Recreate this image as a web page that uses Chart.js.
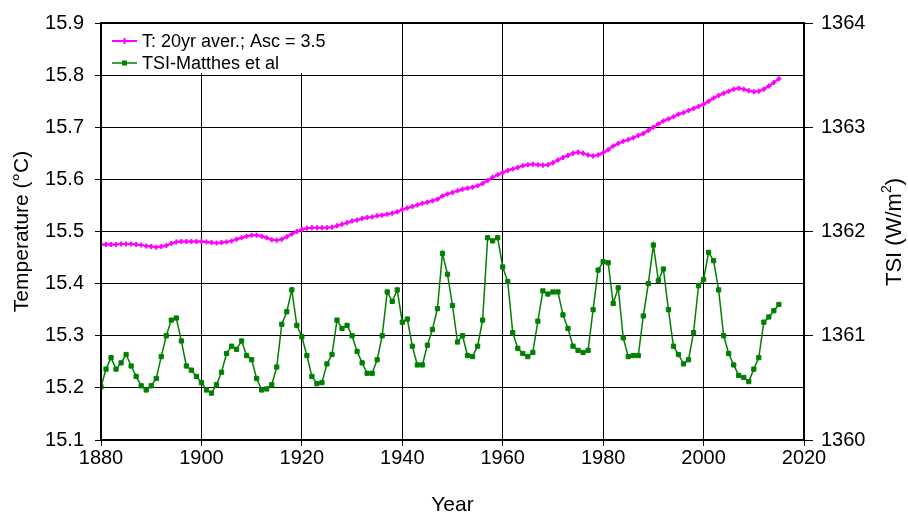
<!DOCTYPE html>
<html><head><meta charset="utf-8">
<script src="https://cdn.jsdelivr.net/npm/chart.js@4/dist/chart.umd.min.js"></script>
<style>html,body{margin:0;padding:0;background:#fff;} #wrap{width:908px;height:516px;position:relative;}</style>
</head><body><div id="wrap"><canvas id="c" width="908" height="516"></canvas></div>
<script>
const FONT = '"Liberation Sans", Arial, Helvetica, sans-serif';

const years = [1880,1881,1882,1883,1884,1885,1886,1887,1888,1889,1890,1891,1892,1893,1894,1895,1896,1897,1898,1899,
1900,1901,1902,1903,1904,1905,1906,1907,1908,1909,1910,1911,1912,1913,1914,1915,1916,1917,1918,1919,
1920,1921,1922,1923,1924,1925,1926,1927,1928,1929,1930,1931,1932,1933,1934,1935,1936,1937,1938,1939,
1940,1941,1942,1943,1944,1945,1946,1947,1948,1949,1950,1951,1952,1953,1954,1955,1956,1957,1958,1959,
1960,1961,1962,1963,1964,1965,1966,1967,1968,1969,1970,1971,1972,1973,1974,1975,1976,1977,1978,1979,
1980,1981,1982,1983,1984,1985,1986,1987,1988,1989,1990,1991,1992,1993,1994,1995,1996,1997,1998,1999,
2000,2001,2002,2003,2004,2005,2006,2007,2008,2009,2010,2011,2012,2013,2014,2015];

const tempAvg20 = [15.475,15.475,15.475,15.475,15.476,15.476,15.476,15.475,15.474,15.472,15.471,15.470,15.471,15.473,15.477,15.480,15.481,15.481,15.481,15.481,
15.481,15.480,15.479,15.478,15.479,15.480,15.482,15.485,15.488,15.491,15.493,15.493,15.491,15.488,15.484,15.483,15.485,15.490,15.495,15.500,
15.504,15.506,15.507,15.507,15.507,15.507,15.508,15.511,15.514,15.517,15.520,15.522,15.525,15.527,15.528,15.530,15.531,15.533,15.535,15.538,
15.542,15.545,15.548,15.551,15.554,15.556,15.559,15.562,15.568,15.572,15.575,15.578,15.581,15.583,15.585,15.588,15.592,15.598,15.604,15.609,
15.613,15.617,15.620,15.623,15.626,15.628,15.629,15.628,15.627,15.628,15.632,15.637,15.642,15.646,15.650,15.652,15.650,15.647,15.645,15.647,
15.651,15.657,15.664,15.669,15.673,15.676,15.680,15.684,15.688,15.694,15.700,15.706,15.712,15.716,15.720,15.725,15.728,15.732,15.736,15.740,
15.744,15.750,15.756,15.761,15.765,15.769,15.773,15.775,15.773,15.770,15.768,15.769,15.773,15.779,15.786,15.793];

const tsiMatthes = [1360.51,1360.68,1360.79,1360.68,1360.74,1360.82,1360.71,1360.61,1360.52,1360.48,1360.52,1360.59,1360.80,1361.00,1361.15,1361.17,1360.95,1360.71,1360.67,1360.61,
1360.55,1360.48,1360.45,1360.53,1360.65,1360.83,1360.90,1360.87,1360.95,1360.81,1360.77,1360.59,1360.48,1360.49,1360.53,1360.70,1361.11,1361.23,1361.44,1361.10,
1360.99,1360.81,1360.61,1360.54,1360.55,1360.73,1360.82,1361.15,1361.07,1361.10,1361.00,1360.85,1360.74,1360.64,1360.64,1360.77,1361.00,1361.42,1361.33,1361.44,
1361.13,1361.16,1360.90,1360.72,1360.72,1360.91,1361.06,1361.26,1361.79,1361.59,1361.29,1360.94,1361.00,1360.81,1360.80,1360.90,1361.15,1361.94,1361.91,1361.94,
1361.66,1361.52,1361.03,1360.88,1360.83,1360.80,1360.84,1361.14,1361.43,1361.40,1361.42,1361.42,1361.20,1361.07,1360.90,1360.86,1360.84,1360.86,1361.25,1361.63,
1361.71,1361.70,1361.31,1361.46,1360.98,1360.80,1360.81,1360.81,1361.19,1361.50,1361.87,1361.53,1361.64,1361.25,1360.90,1360.82,1360.73,1360.77,1361.03,1361.48,
1361.54,1361.80,1361.72,1361.44,1361.00,1360.83,1360.72,1360.62,1360.60,1360.56,1360.68,1360.79,1361.13,1361.18,1361.24,1361.30];

const seriesNames = ['T: 20yr aver.; Asc = 3.5', 'TSI-Matthes et al'];
const xTitle = 'Year';
const yLeftTitle = 'Temperature (\u00B0C)';
const yRightTitle = ['TSI (W/m', '2', ')'];

const MAGENTA = '#FF00FF';
const GREEN = '#008000';

const overlay = {
  id: 'overlay',
  afterDraw(chart) {
    const ctx = chart.ctx, a = chart.chartArea;
    ctx.save();
    // legend box
    ctx.fillStyle = '#fff';
    ctx.fillRect(a.left + 1, a.top + 1, 240, 49);
    ctx.textBaseline = 'middle';
    ctx.font = '18px ' + FONT;
    const rows = [
      {y: a.top + 18, color: MAGENTA, style: 'cross', lw: 2},
      {y: a.top + 40, color: GREEN, style: 'rect', lw: 1.5}
    ];
    rows.forEach((r, i) => {
      ctx.strokeStyle = r.color; ctx.lineWidth = r.lw;
      ctx.beginPath(); ctx.moveTo(a.left + 11, r.y); ctx.lineTo(a.left + 36, r.y); ctx.stroke();
      ctx.fillStyle = r.color;
      if (r.style === 'rect') {
        ctx.fillRect(a.left + 21, r.y - 2.5, 5, 5);
      } else {
        ctx.lineWidth = 2;
        ctx.beginPath();
        ctx.moveTo(a.left + 20.5, r.y); ctx.lineTo(a.left + 26.5, r.y);
        ctx.moveTo(a.left + 23.5, r.y - 3); ctx.lineTo(a.left + 23.5, r.y + 3);
        ctx.stroke();
      }
      ctx.fillStyle = '#000';
      ctx.textAlign = 'left';
      ctx.fillText(seriesNames[i], a.left + 41, r.y + 1);
    });
    // plot border
    ctx.strokeStyle = '#000'; ctx.lineWidth = 2;
    ctx.strokeRect(a.left, a.top, a.right - a.left, a.bottom - a.top);
    // right axis title, reading bottom to top
    ctx.translate(894, 232);
    ctx.rotate(-Math.PI / 2);
    ctx.fillStyle = '#000';
    ctx.textBaseline = 'middle';
    const bigF = '22px ' + FONT, smallF = '14px ' + FONT;
    ctx.font = bigF; const w1 = ctx.measureText(yRightTitle[0]).width;
    const w3 = ctx.measureText(yRightTitle[2]).width;
    ctx.font = smallF; const w2 = ctx.measureText(yRightTitle[1]).width;
    let x = -(w1 + w2 + w3) / 2;
    ctx.textAlign = 'left';
    ctx.font = bigF; ctx.fillText(yRightTitle[0], x, 1); x += w1;
    ctx.font = smallF; ctx.fillText(yRightTitle[1], x, -7); x += w2;
    ctx.font = bigF; ctx.fillText(yRightTitle[2], x, 1);
    ctx.restore();
  }
};

const tickFont = {family: FONT, size: 20};

new Chart(document.getElementById('c'), {
  type: 'line',
  data: {
    datasets: [
      {
        label: seriesNames[0],
        data: years.map((yr, i) => ({x: yr, y: tempAvg20[i]})),
        yAxisID: 'y',
        borderColor: MAGENTA, backgroundColor: MAGENTA,
        borderWidth: 2, pointStyle: 'cross', pointRadius: 2.5, pointBorderWidth: 2,
        tension: 0, order: 1
      },
      {
        label: seriesNames[1],
        data: years.map((yr, i) => ({x: yr, y: tsiMatthes[i]})),
        yAxisID: 'y2',
        borderColor: GREEN, backgroundColor: GREEN,
        borderWidth: 1.5, pointStyle: 'rect', pointRadius: 3, pointBorderWidth: 1,
        tension: 0, order: 2
      }
    ]
  },
  options: {
    responsive: false,
    animation: false,
    layout: {padding: {top: 23, left: 0, right: 0, bottom: 0}},
    plugins: {legend: {display: false}, tooltip: {enabled: false}},
    scales: {
      x: {
        type: 'linear', min: 1880, max: 2020,
        afterFit(s) { s.height = 76; },
        ticks: {stepSize: 20, font: tickFont, color: '#000', padding: 0, maxRotation: 0,
                callback: v => String(v)},
        grid: {color: '#000', lineWidth: 1, tickLength: 6},
        border: {display: true, color: '#000', width: 2},
        title: {display: true, text: xTitle, color: '#000',
                font: {family: FONT, size: 21, lineHeight: 1}, padding: {top: 0, bottom: 0}}
      },
      y: {
        position: 'left', min: 15.1, max: 15.9,
        afterFit(s) { s.width = 101; },
        ticks: {stepSize: 0.1, font: tickFont, color: '#000', padding: 11,
                callback: v => Number(v).toFixed(1)},
        grid: {color: '#000', lineWidth: 1, tickLength: 6},
        border: {display: true, color: '#000', width: 2},
        title: {display: true, text: yLeftTitle, color: '#000',
                font: {family: FONT, size: 21, lineHeight: 1.2}, padding: {top: 10, bottom: 0}}
      },
      y2: {
        position: 'right', min: 1360, max: 1364,
        afterFit(s) { s.width = 104; },
        ticks: {stepSize: 1, font: tickFont, color: '#000', padding: 8,
                callback: v => String(v)},
        grid: {drawOnChartArea: false, color: '#000', lineWidth: 1, tickLength: 9},
        border: {display: true, color: '#000', width: 2},
        title: {display: false}
      }
    }
  },
  plugins: [overlay]
});
</script>
</body></html>
